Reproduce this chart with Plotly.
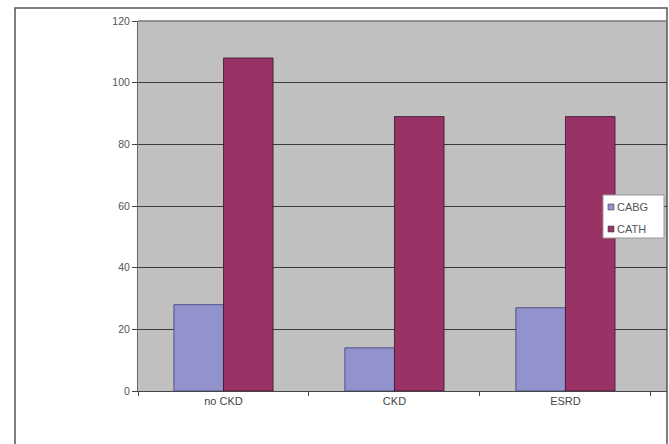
import plotly.graph_objects as go

categories = ["no CKD", "CKD", "ESRD"]
series_names = ["CABG", "CATH"]
cabg = [28, 14, 27]
cath = [108, 89, 89]
y_ticks = [0, 20, 40, 60, 80, 100, 120]
colors = ["#9292cc", "#993366"]

W, H = 669, 444
ml, mr, mt, mb = 138, 2, 21, 53
pw, ph = W - ml - mr, H - mt - mb

fig = go.Figure()
fig.add_trace(go.Bar(name=series_names[0], x=categories, y=cabg, showlegend=False,
                     marker=dict(color=colors[0], line=dict(color="#3a3a7a", width=0.8))))
fig.add_trace(go.Bar(name=series_names[1], x=categories, y=cath, showlegend=False,
                     marker=dict(color=colors[1], line=dict(color="#3a1430", width=0.8))))

def px(x):
    return (x - ml) / pw

def py(y):
    return (H - mb - y) / ph

# outer chart border
fig.add_shape(type="rect", xref="paper", yref="paper",
              x0=px(15), x1=px(667), y0=py(452), y1=py(8),
              line=dict(color="#555555", width=1.5), fillcolor="rgba(0,0,0,0)", layer="below")
# top border of plot area
fig.add_shape(type="line", xref="paper", yref="paper", x0=0, x1=1, y0=1, y1=1,
              line=dict(color="#777777", width=1.5))

# legend box (drawn)
fig.add_shape(type="rect", xref="paper", yref="paper",
              x0=px(603), x1=px(664), y0=py(238), y1=py(195),
              line=dict(color="#999999", width=1), fillcolor="white", layer="above")
row_y = [207, 229]
for name, col, ry in zip(series_names, colors, row_y):
    fig.add_shape(type="rect", xref="paper", yref="paper",
                  x0=px(608), x1=px(614), y0=py(ry + 3), y1=py(ry - 3),
                  line=dict(color="#444444", width=0.6), fillcolor=col, layer="above")
    fig.add_annotation(xref="paper", yref="paper", x=px(615), y=py(ry),
                       xanchor="left", yanchor="middle", text=name, showarrow=False,
                       font=dict(size=11, color="#555555"))

fig.update_layout(
    width=W, height=H,
    margin=dict(l=ml, r=mr, t=mt, b=mb),
    paper_bgcolor="white",
    plot_bgcolor="#c0c0c0",
    barmode="group",
    bargap=0.42,
    bargroupgap=0,
    font=dict(family="Liberation Sans, Arial, sans-serif", size=11, color="#444444"),
    showlegend=False,
)
fig.update_yaxes(range=[0, 120], tickvals=y_ticks, ticks="outside", ticklen=5,
                 tickcolor="#444444", showgrid=True, gridcolor="#3a3a3a", gridwidth=1,
                 showline=True, linecolor="#666666", linewidth=1, zeroline=False,
                 tickfont=dict(size=10.5, color="#555555"))
fig.update_xaxes(range=[-0.5, 2.594], ticks="outside", tickson="boundaries", ticklen=4,
                 tickcolor="#444444", showline=True, linecolor="#444444", linewidth=1,
                 tickfont=dict(size=11, color="#444444"))

fig.write_html("out.html", config={"displayModeBar": False},
               post_script="document.body.style.margin='0';document.body.style.overflow='hidden';")
